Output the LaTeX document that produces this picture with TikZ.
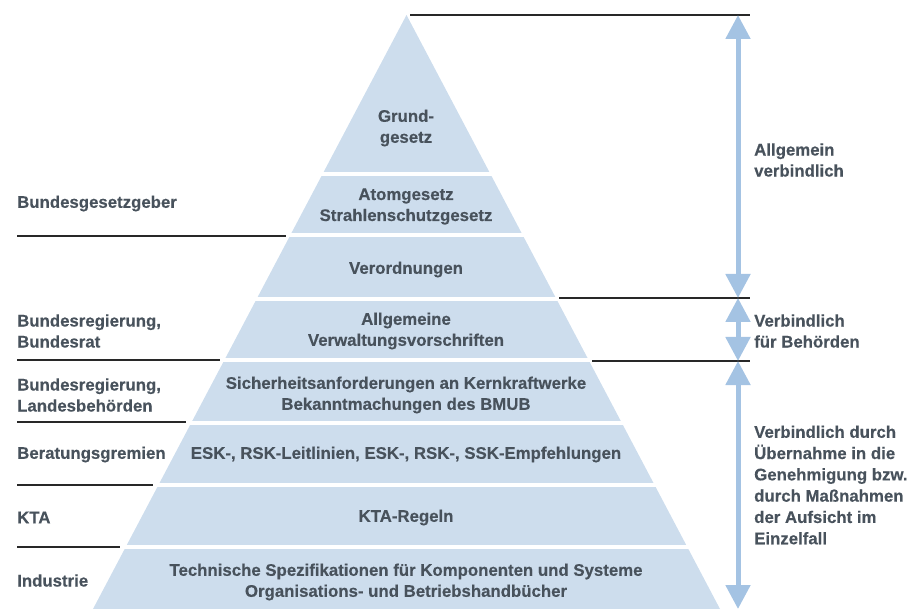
\documentclass[tikz,border=0pt]{standalone}
\usepackage{fontspec}
\setmainfont{Liberation Sans}[BoldFeatures={FakeBold=0.35}]
\usetikzlibrary{arrows.meta}
\definecolor{bandc}{RGB}{205,221,237}
\definecolor{txtc}{RGB}{72,82,92}
\definecolor{arrc}{RGB}{164,195,227}
\definecolor{rulec}{RGB}{40,40,40}
\begin{document}
\begin{tikzpicture}[x=1pt,y=-1pt,
  lbl/.style={font=\fontsize{16.8}{21}\selectfont\bfseries, text=txtc, inner sep=0pt, align=left, anchor=west, yshift=-1.5pt},
  bandtxt/.style={font=\fontsize{16.8}{21}\selectfont\bfseries, text=txtc, inner sep=0pt, align=center, yshift=-1.5pt},
  ruleline/.style={draw=rulec, line width=1.2pt},
  gapline/.style={draw=white, line width=4pt},
  dblarrow/.style={draw=arrc, line width=5pt, {Triangle[width=24pt,length=24pt]}-{Triangle[width=24pt,length=24pt]}}]
\useasboundingbox (0,0) rectangle (910,609);
% pyramid
\coordinate (apex) at (406.5,15);
\coordinate (bl) at (93,609);
\coordinate (br) at (720,609);
\fill[bandc] (apex) -- (br) -- (bl) -- cycle;
\foreach \y in {174.5,235.5,299,360.5,423,485,547}
  \draw[gapline] (85,\y) -- (728,\y);
% band texts
\node[bandtxt] (b1) at (406,126.5) {Grund-\\gesetz};
\node[bandtxt] (b2) at (406,205) {Atomgesetz\\Strahlenschutzgesetz};
\node[bandtxt] (b3) at (406,268) {Verordnungen};
\node[bandtxt] (b4) at (406,329.5) {Allgemeine\\Verwaltungsvorschriften};
\node[bandtxt] (b5) at (406,393.5) {Sicherheitsanforderungen an Kernkraftwerke\\Bekanntmachungen des BMUB};
\node[bandtxt] (b6) at (406,453) {ESK-, RSK-Leitlinien, ESK-, RSK-, SSK-Empfehlungen};
\node[bandtxt] (b7) at (406,516) {KTA-Regeln};
\node[bandtxt] (b8) at (406,580.5) {Technische Spezifikationen für Komponenten und Systeme\\Organisations- und Betriebshandbücher};
% left labels
\node[lbl] (l1) at (17,202) {Bundesgesetzgeber};
\node[lbl] (l2) at (17,329.5) {Bundesregierung,\\Bundesrat};
\node[lbl] (l3) at (17,393.5) {Bundesregierung,\\Landesbehörden};
\node[lbl] (l4) at (17,453) {Beratungsgremien};
\node[lbl] (l5) at (17,516) {KTA};
\node[lbl] (l6) at (17,579) {Industrie};
% left rules
\coordinate (la1) at (17,236); \coordinate (lb1) at (286,236);
\coordinate (la2) at (17,360); \coordinate (lb2) at (220,360);
\coordinate (la3) at (17,422); \coordinate (lb3) at (186,422);
\coordinate (la4) at (17,485); \coordinate (lb4) at (153,485);
\coordinate (la5) at (17,547); \coordinate (lb5) at (120,547);
\draw[ruleline] (la1) -- (lb1);
\draw[ruleline] (la2) -- (lb2);
\draw[ruleline] (la3) -- (lb3);
\draw[ruleline] (la4) -- (lb4);
\draw[ruleline] (la5) -- (lb5);
% right rules
\coordinate (ra1) at (410,15);  \coordinate (rb1) at (750,15);
\coordinate (ra2) at (559,298); \coordinate (rb2) at (750,298);
\coordinate (ra3) at (592,361); \coordinate (rb3) at (750,361);
\draw[ruleline] (ra1) -- (rb1);
\draw[ruleline] (ra2) -- (rb2);
\draw[ruleline] (ra3) -- (rb3);
% arrows
\coordinate (a0) at (738,15);
\coordinate (a1) at (738,298);
\coordinate (a2) at (738,361);
\coordinate (a3) at (738,609);
\draw[dblarrow] (a0) -- (a1);
\draw[dblarrow] (a1) -- (a2);
\draw[dblarrow] (a2) -- (a3);
% right labels
\node[lbl] (r1) at (754,158.5) {Allgemein\\verbindlich};
\node[lbl] (r2) at (754,329.5) {Verbindlich\\für Behörden};
\node[lbl, font=\fontsize{16.8}{21.3}\selectfont\bfseries] (r3) at (754,483.5) {Verbindlich durch\\Übernahme in die\\Genehmigung bzw.\\durch Maßnahmen\\der Aufsicht im\\Einzelfall};
\end{tikzpicture}
\end{document}
